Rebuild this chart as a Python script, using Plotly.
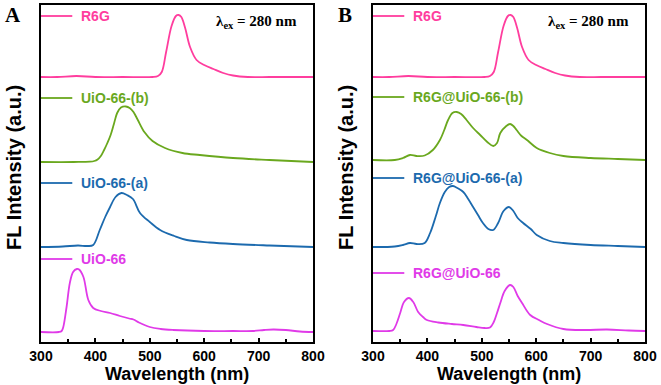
import plotly.graph_objects as go

# wavelength (nm) and stacked FL intensity (a.u., offsets included)
r6g_wl = [300, 330, 365, 400, 450, 505, 515, 522, 530, 540, 548, 553, 558, 565, 574, 586,
          600, 617, 635, 653, 680, 720, 760, 800]
r6g_int = [265, 265, 266, 265, 265, 265, 266, 270, 290, 316, 326, 327, 325, 314, 295, 282,
           277, 273, 269, 266.5, 265, 265, 265, 265]

uio_b_wl = [300, 360, 390, 398, 404, 410, 416, 422, 428, 434, 440, 447, 456, 463, 470, 478,
            490, 505, 528, 560, 592, 653, 720, 800]
uio_b_int = [180, 180, 180.3, 181, 182.5, 186, 192, 199, 207, 218, 229, 234.5, 235.5, 234, 230,
             222, 210, 201, 194, 189, 187, 184, 182, 180]

uio_a_wl = [300, 340, 368, 385, 396, 408, 418, 427, 437, 448, 458, 469, 482, 500, 519, 545,
            568, 610, 653, 720, 800]
uio_a_int = [95, 95.5, 96.5, 96, 97, 112, 125, 135, 145, 149, 147, 143, 129, 120, 112, 106,
             102, 99.5, 98, 96.5, 95]

uio_wl = [300, 333, 338, 341, 347, 353, 359, 366, 370, 378, 387, 396, 410, 427, 445, 462, 470,
          480, 500, 520, 543, 600, 653, 690, 710, 727, 750, 776, 800]
uio_int = [10, 10, 11, 15, 35, 59, 70, 73, 72.5, 65, 42, 34, 31, 29, 26, 23.5, 22.5,
           19.5, 15, 13, 12, 11, 11, 11, 12, 12.5, 12, 10.5, 10]

r6g_uio_b_wl = [300, 340, 355, 368, 380, 395, 410, 423, 431, 438, 446, 454, 462, 472, 484, 497,
                510, 521, 528, 534, 545, 552, 558, 564, 573, 583, 601, 625, 650, 700, 750, 800]
r6g_uio_b_int = [182, 182, 184, 187, 186, 186.5, 192, 202, 212, 222, 229, 230, 228, 222, 214, 207,
                 200, 196, 199, 209, 216, 218, 216, 212, 206, 202, 194, 189, 186, 184, 183, 182]

r6g_uio_a_wl = [300, 340, 355, 368, 380, 395, 405, 415, 423, 432, 440, 447, 455, 466, 475, 484,
                493, 502, 512, 521, 530, 540, 550, 558, 566, 576, 590, 601, 625, 650, 700, 750, 800]
r6g_uio_a_int = [95, 95.5, 97, 99, 98, 99, 109, 125, 139, 150, 155, 156, 154, 150, 143, 135,
                 127, 119, 113, 112, 119, 131, 135, 131, 124, 119, 113, 107, 101, 99, 97, 96, 95]

r6g_uio_wl = [300, 330, 337, 343, 350, 357, 366, 374, 383, 392, 399, 420, 445, 466, 490, 505,
              515, 522, 528, 534, 542, 552, 558, 566, 574, 589, 605, 620, 650, 690, 730, 770, 800]
r6g_uio_int = [11, 11, 12, 18, 29, 40, 44, 40, 30, 25, 22, 19.5, 18, 17, 15, 14,
               14.5, 20, 29, 39, 51, 57, 55, 46, 39, 27, 22, 18, 13, 12, 12.5, 11.5, 11]

panel_a = [
    ("R6G", r6g_wl, r6g_int, "#FF3D9E"),
    ("UiO-66-(b)", uio_b_wl, uio_b_int, "#6AA81E"),
    ("UiO-66-(a)", uio_a_wl, uio_a_int, "#1C6AAE"),
    ("UiO-66", uio_wl, uio_int, "#E03AE8"),
]
panel_b = [
    ("R6G", r6g_wl, r6g_int, "#FF3D9E"),
    ("R6G@UiO-66-(b)", r6g_uio_b_wl, r6g_uio_b_int, "#6AA81E"),
    ("R6G@UiO-66-(a)", r6g_uio_a_wl, r6g_uio_a_int, "#1C6AAE"),
    ("R6G@UiO-66", r6g_uio_wl, r6g_uio_int, "#E03AE8"),
]
label_y_a = [326, 244, 159, 83]
label_y_b = [326, 245, 164, 69]

W, H = 661, 385
SANS = "Liberation Sans, Arial, sans-serif"
SERIF = "Liberation Serif, Times New Roman, serif"

fig = go.Figure()
shapes, annotations = [], []

for idx, (series, label_ys, letter) in enumerate([(panel_a, label_y_a, "A"), (panel_b, label_y_b, "B")]):
    xa = "x" if idx == 0 else "x2"
    ya = "y" if idx == 0 else "y2"
    for (name, wl, inten, color), ly in zip(series, label_ys):
        fig.add_trace(go.Scatter(
            x=wl, y=inten, mode="lines", name=name, xaxis=xa, yaxis=ya,
            line=dict(color=color, width=1.8, shape="spline", smoothing=1.0),
            showlegend=False,
        ))
        shapes.append(dict(type="line", xref=f"{xa} domain", yref=ya, x0=0, x1=0.115,
                           y0=ly, y1=ly, line=dict(color=color, width=1.8)))
        annotations.append(dict(xref=f"{xa} domain", yref=ya, x=0.14, y=ly, text=name,
                                showarrow=False, xanchor="left", yanchor="middle",
                                font=dict(family=SANS, size=14, color=color, weight="bold")))
    annotations.append(dict(xref=f"{xa} domain", yref="paper", x=0.947, y=1 - 22 / H,
                            text="λ<sub>ex</sub> = 280 nm", showarrow=False,
                            xanchor="right", yanchor="middle",
                            font=dict(family=SERIF, size=15, color="black", weight="bold")))
    left_px = 41 if idx == 0 else 373
    annotations.append(dict(xref="paper", yref="paper", x=(left_px - 28) / W, y=1 - 15 / H,
                            text=letter, showarrow=False, xanchor="center", yanchor="middle",
                            font=dict(family=SERIF, size=21, color="black", weight="bold")))
    annotations.append(dict(xref="paper", yref="paper", x=(left_px - 27) / W, y=1 - 168 / H,
                            text="FL Intensity (a.u.)", showarrow=False, textangle=-90,
                            xanchor="center", yanchor="middle",
                            font=dict(family=SANS, size=20, color="black", weight="bold")))
    annotations.append(dict(xref=f"{xa} domain", yref="paper", x=0.5, y=1 - 374 / H,
                            text="Wavelength (nm)", showarrow=False,
                            xanchor="center", yanchor="middle",
                            font=dict(family=SANS, size=18, color="black", weight="bold")))

xaxis_style = dict(
    range=[300, 800], dtick=100, ticks="inside", ticklen=4, tickwidth=1.5, tickcolor="black",
    minor=dict(ticks="inside", dtick=50, ticklen=3, tickwidth=1.5, tickcolor="black"),
    showline=True, mirror=True, linewidth=2, linecolor="black", showgrid=False, zeroline=False,
    tickfont=dict(family=SANS, size=14, color="black", weight="bold"),
    ticklabelstandoff=0, automargin=False,
)
yaxis_style = dict(
    range=[0, 337], showticklabels=False, ticks="", showline=True, mirror=True,
    linewidth=2, linecolor="black", showgrid=False, zeroline=False,
    domain=[43 / H, 380 / H], automargin=False,
)

fig.update_layout(
    width=W, height=H, margin=dict(l=0, r=0, t=0, b=0, pad=0, autoexpand=False),
    paper_bgcolor="white", plot_bgcolor="white",
    xaxis=dict(xaxis_style, domain=[41 / W, 313 / W], anchor="y"),
    xaxis2=dict(xaxis_style, domain=[373 / W, 645 / W], anchor="y2"),
    yaxis=dict(yaxis_style, anchor="x"),
    yaxis2=dict(yaxis_style, anchor="x2"),
    shapes=shapes, annotations=annotations,
)

# the page's default body margin would shift the 661x385 figure inside the window
fig.write_html("out.html", config={"displayModeBar": False},
               post_script="document.body.style.margin = '0';")
